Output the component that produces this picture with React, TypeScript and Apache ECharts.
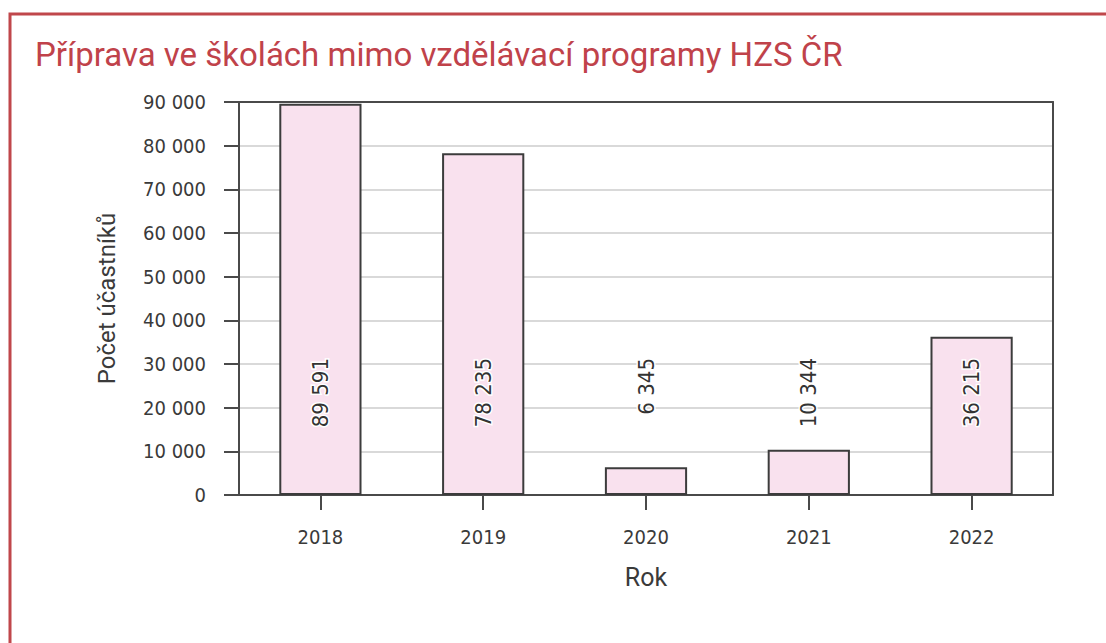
import React, { useEffect, useRef } from "react";
import * as echarts from "echarts";

const categories = ["2018", "2019", "2020", "2021", "2022"];
const participants = [89591, 78235, 6345, 10344, 36215];
const yTicks = [0, 10000, 20000, 30000, 40000, 50000, 60000, 70000, 80000, 90000];

const titleText = "Příprava ve školách mimo vzdělávací programy HZS ČR";
const yName = "Počet účastníků";
const xName = "Rok";

const fmt = (v: number) => String(v).replace(/\B(?=(\d{3})+(?!\d))/g, " ");

export default function App() {
  const ref = useRef<HTMLDivElement>(null);
  useEffect(() => {
    if (!ref.current) return;
    const chart = echarts.init(ref.current, null, { renderer: "svg" });
    const narrow = "'DejaVu Sans Condensed', 'Liberation Sans Narrow', sans-serif";
    const axisDark = "#4a4a4a";
    chart.setOption({
      animation: false,
      backgroundColor: "#ffffff",
      graphic: [
        {
          type: "rect",
          shape: { x: 10, y: 14, width: 1200, height: 800 },
          style: { fill: "none", stroke: "#c0474b", lineWidth: 3 },
          silent: true,
        },
        {
          type: "text",
          left: 35,
          top: 38,
          style: {
            text: titleText,
            fill: "#c0424a",
            font: "33px Roboto, sans-serif",
          },
        },
      ],
      grid: { left: 239, right: 53, top: 102, bottom: 148, containLabel: false },
      xAxis: [
        {
          type: "category",
          data: categories,
          position: "bottom",
          name: xName,
          nameLocation: "middle",
          nameGap: 70,
          nameTextStyle: { fontFamily: "Roboto, sans-serif", fontSize: 25, color: "#3a3a3a" },
          axisLine: { show: true, lineStyle: { color: axisDark, width: 2 } },
          axisTick: { show: true, alignWithLabel: true, length: 15, lineStyle: { color: axisDark, width: 2 } },
          axisLabel: { fontFamily: narrow, fontSize: 20, color: "#3a3a3a", margin: 32 },
          splitLine: { show: false },
        },
        {
          type: "category",
          data: categories,
          position: "top",
          axisLine: { show: true, onZero: false, lineStyle: { color: axisDark, width: 2 } },
          axisTick: { show: false },
          axisLabel: { show: false },
          splitLine: { show: false },
        },
      ],
      yAxis: [
        {
          type: "value",
          min: 0,
          max: 90000,
          interval: 10000,
          name: yName,
          nameLocation: "middle",
          nameGap: 120,
          nameTextStyle: { fontFamily: "Roboto, sans-serif", fontSize: 24, color: "#3a3a3a" },
          axisLine: { show: true, lineStyle: { color: axisDark, width: 2 } },
          axisTick: { show: true, length: 15, lineStyle: { color: axisDark, width: 2 } },
          axisLabel: {
            fontFamily: narrow,
            fontSize: 20,
            color: "#3a3a3a",
            margin: 33,
            formatter: (v: number) => (yTicks.includes(v) ? fmt(v) : ""),
          },
          splitLine: {
            show: true,
            showMinLine: false,
            showMaxLine: false,
            lineStyle: { color: "#d9d9d9", width: 2 },
          },
        },
        {
          type: "value",
          min: 0,
          max: 90000,
          interval: 10000,
          position: "right",
          axisLine: { show: true, onZero: false, lineStyle: { color: axisDark, width: 2 } },
          axisTick: { show: false },
          axisLabel: { show: false },
          splitLine: { show: false },
        },
      ],
      series: [
        {
          type: "bar",
          xAxisIndex: 0,
          yAxisIndex: 0,
          data: participants,
          barWidth: "50.5%",
          itemStyle: { color: "#f9e1ee", borderColor: "#3c3c3c", borderWidth: 2 },
          label: {
            show: true,
            position: "insideBottom",
            distance: 0,
            rotate: 90,
            align: "right",
            verticalAlign: "middle",
            offset: [137, 0],
            formatter: (p: any) => fmt(p.value),
            fontFamily: narrow,
            fontSize: 22,
            color: "#333333",
            textBorderColor: "#ffffff",
            textBorderWidth: 3,
          },
        },
      ],
    });
    return () => chart.dispose();
  }, []);
  return (
    <div
      ref={ref}
      style={{ position: "absolute", left: 0, top: 0, width: 1106, height: 643 }}
    />
  );
}
